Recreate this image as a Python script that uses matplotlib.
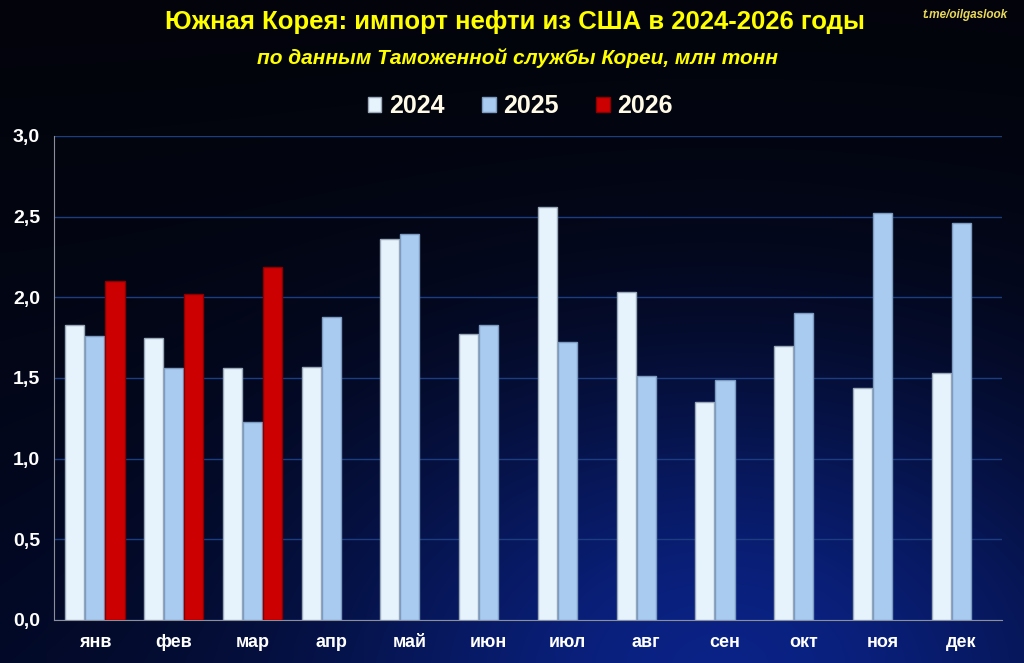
import numpy as np
import matplotlib
matplotlib.use("Agg")
import matplotlib.pyplot as plt
from matplotlib.patches import Patch

# data (млн тонн)
months = ["янв", "фев", "мар", "апр", "май", "июн", "июл", "авг", "сен", "окт", "ноя", "дек"]
imp_2024 = [1.83, 1.75, 1.56, 1.57, 2.36, 1.77, 2.56, 2.03, 1.35, 1.70, 1.44, 1.53]
imp_2025 = [1.76, 1.56, 1.23, 1.88, 2.39, 1.83, 1.72, 1.51, 1.49, 1.90, 2.52, 2.46]
imp_2026 = [2.10, 2.02, 2.19]
yticks = [0.0, 0.5, 1.0, 1.5, 2.0, 2.5, 3.0]
ytick_labels = ["0,0", "0,5", "1,0", "1,5", "2,0", "2,5", "3,0"]

title = "Южная Корея: импорт нефти из США в 2024-2026 годы"
subtitle = "по данным Таможенной службы Кореи, млн тонн"
watermark = "t.me/oilgaslook"

FONT = ["Liberation Sans", "DejaVu Sans"]
plt.rcParams["font.family"] = FONT

fig = plt.figure(figsize=(10.24, 6.63), dpi=100)

# dark space background: black on top, deep blue glow lower right
bg = fig.add_axes([0, 0, 1, 1], zorder=-10)
h, w = 663, 1024
yy, xx = np.mgrid[0:h, 0:w]
glow = np.exp(-(((xx - 720) / 400.0) ** 2 + ((yy - 650) / 280.0) ** 2))
vert = (yy / h) ** 1.5
r = 0.01 + 0.03 * glow
g = 0.015 + 0.10 * glow + 0.02 * vert
b = 0.045 + 0.38 * glow + 0.10 * vert
img = np.clip(np.dstack([r, g, b]), 0, 1)
bg.imshow(img, aspect="auto", extent=[0, 1, 0, 1], origin="upper")
bg.set_axis_off()

ax = fig.add_axes([0.0527, 0.0649, 0.926, 0.730])
ax.set_facecolor("none")

x = np.arange(len(months))
bw = 0.255
ax.bar(x - bw, imp_2024, bw * 0.95, color="#e6f3fc", edgecolor="#9aa9b9", linewidth=1.0, zorder=3)
ax.bar(x, imp_2025, bw * 0.95, color="#a9cbef", edgecolor="#7c9bc0", linewidth=1.0, zorder=3)
ax.bar(x[:len(imp_2026)] + bw, imp_2026, bw * 0.95, color="#cc0000", edgecolor="#8a0000", linewidth=1.0, zorder=3)

ax.set_xlim(-0.52, 11.52)
ax.set_ylim(0, 3.0)
ax.set_yticks(yticks)
ax.set_yticklabels(ytick_labels)
ax.set_xticks(x)
ax.set_xticklabels(months)
ax.grid(axis="y", color="#1c3d80", linewidth=1.0, zorder=0)
ax.tick_params(axis="both", length=0, colors="white")
ax.tick_params(axis="y", pad=10)
ax.tick_params(axis="x", pad=10)
for lab in ax.get_yticklabels():
    lab.set_fontsize(14)
    lab.set_fontweight("bold")
for lab in ax.get_xticklabels():
    lab.set_fontsize(13)
    lab.set_fontweight("bold")

for s in ["top", "right"]:
    ax.spines[s].set_visible(False)
ax.spines["left"].set_color("#8a8f99")
ax.spines["bottom"].set_color("#8a8f99")

fig.text(0.503, 0.967, title, ha="center", va="center", color="#ffff00",
         fontsize=18.5, fontweight="bold")
fig.text(0.505, 0.913, subtitle, ha="center", va="center", color="#ffff00",
         fontsize=15, fontweight="bold", style="italic")
fig.text(0.942, 0.977, watermark, ha="center", va="center", color="#e8d85a",
         fontsize=8.5, fontweight="bold", style="italic")

handles = [Patch(facecolor="#e6f3fc", edgecolor="#9aa9b9"),
           Patch(facecolor="#a9cbef", edgecolor="#7c9bc0"),
           Patch(facecolor="#cc0000", edgecolor="#8a0000")]
leg = fig.legend(handles, ["2024", "2025", "2026"], loc="center", bbox_to_anchor=(0.508, 0.84),
                 ncol=3, frameon=False, handlelength=0.55, handleheight=0.55,
                 handletextpad=0.3, columnspacing=1.5,
                 prop={"family": FONT, "size": 18, "weight": "bold"})
for t in leg.get_texts():
    t.set_color("#fffbe6")

fig.savefig("out.png", dpi=100)
